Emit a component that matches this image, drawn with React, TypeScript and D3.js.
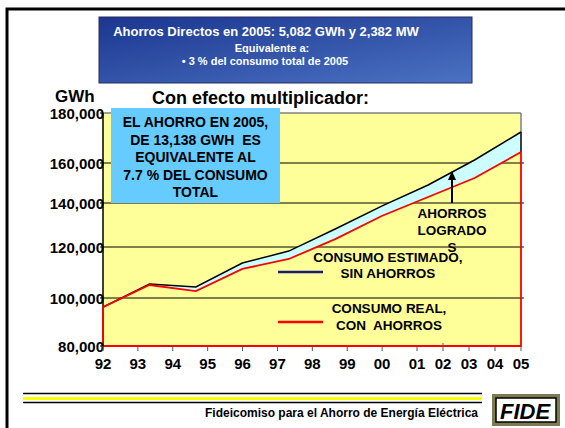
import * as d3 from 'd3';

// consumption series (GWh)
const ESTIMADO = [96200, 105500, 104300, 113700, 118400, 128200, 138600, 149000, 161200, 172400];
const REAL = [96200, 105100, 102700, 111400, 115300, 123600, 134100, 143000, 152500, 164400];
const Y_TICKS = [80000, 100000, 120000, 140000, 160000, 180000];
const X_LABELS = ['92', '93', '94', '95', '96', '97', '98', '99', '00', '01', '02', '03', '04', '05'];
const BOX_LINES = ['EL AHORRO EN 2005,', 'DE 13,138 GWH  ES', 'EQUIVALENTE AL', '7.7 % DEL CONSUMO', 'TOTAL'];

const FONT = '"Liberation Sans", Arial, Helvetica, sans-serif';

const margin = { left: 103, top: 113 };
const W = 418;
const H = 233;

export default function App() {
  // the source picture is slightly stretched, so the scales are piecewise
  const y = d3.scaleLinear().domain(Y_TICKS).range([H, 185, 134, 90, 50, 0]);
  const xData = d3.scaleLinear().domain([0, ESTIMADO.length - 1]).range([0, W]);
  const xTick = d3.scaleLinear().domain([0, 9, X_LABELS.length - 1]).range([0, 314, W]);

  const rows = ESTIMADO.map((e, i) => ({ i, est: e, real: REAL[i] }));

  const band = d3.area<any>()
    .x(d => xData(d.i))
    .y0(d => y(d.real))
    .y1(d => y(d.est))(rows);

  const estLine = d3.line<any>().x(d => xData(d.i)).y(d => y(d.est))(rows);
  const realOutline = d3.area<any>().x(d => xData(d.i)).y0(H).y1(d => y(d.real))(rows);

  const last = rows[rows.length - 1];

  return (
    <svg width={565} height={428} style={{ position: 'absolute', left: 0, top: 0, background: '#fff' }} fontFamily={FONT}>
      <defs>
        <linearGradient id="banner" x1="0%" y1="0%" x2="100%" y2="100%">
          <stop offset="0%" stopColor="#1b3690" />
          <stop offset="100%" stopColor="#4b72c2" />
        </linearGradient>
      </defs>

      {/* slide frame */}
      <rect x={7} y={9} width={600} height={450} fill="none" stroke="#000" strokeWidth={3} />

      {/* banner */}
      <rect x={99} y={17} width={373} height={66} fill="url(#banner)" stroke="#2a2a60" strokeWidth={1} />
      <text x={266} y={36} textAnchor="middle" fill="#fff" fontWeight="bold" fontSize={13}>
        Ahorros Directos en 2005: 5,082 GWh y 2,382 MW
      </text>
      <text x={272} y={52} textAnchor="middle" fill="#fff" fontWeight="bold" fontSize={11}>Equivalente a:</text>
      <text x={265} y={65} textAnchor="middle" fill="#fff" fontWeight="bold" fontSize={11}>
        • 3 % del consumo total de 2005
      </text>

      <text x={55} y={102} fontWeight="bold" fontSize={17}>GWh</text>
      <text x={152} y={104} fontWeight="bold" fontSize={18}>Con efecto multiplicador:</text>

      <g transform={`translate(${margin.left},${margin.top})`}>
        <rect x={0} y={0} width={W} height={H} fill="#ffff99" />
        {Y_TICKS.slice(1, -1).map(t => (
          <line key={t} x1={0} x2={W + 3} y1={y(t)} y2={y(t)} stroke="#000" strokeWidth={1} />
        ))}
        <path d={band ?? ''} fill="#ccffff" />
        <line x1={0} x2={W} y1={0} y2={0} stroke="#808080" strokeWidth={1.5} />
        <line x1={W} x2={W} y1={0} y2={y(last.est)} stroke="#808080" strokeWidth={1.5} />
        <line x1={0} x2={0} y1={0} y2={H} stroke="#000" strokeWidth={1.5} />
        <path d={estLine ?? ''} fill="none" stroke="#000" strokeWidth={1.5} />
        <line x1={W} x2={W} y1={y(last.est)} y2={y(last.real)} stroke="#000" strokeWidth={1.5} />
        <path d={realOutline ?? ''} fill="none" stroke="#ff0000" strokeWidth={1.8} />

        {/* y axis */}
        {Y_TICKS.map(t => (
          <g key={t}>
            <line x1={-3} x2={0} y1={y(t)} y2={y(t)} stroke="#000" />
            <text x={1} y={y(t) + 6} textAnchor="end" fontWeight="bold" fontSize={15}>
              {d3.format(',')(t)}
            </text>
          </g>
        ))}

        {/* x axis */}
        {X_LABELS.map((l, i) => (
          <g key={l}>
            <line x1={xTick(i)} x2={xTick(i)} y1={l === '02' ? H - 3 : H} y2={H + 5} stroke="#555" strokeWidth={1} />
            <text x={xTick(i)} y={H + 23} textAnchor="middle" fontWeight="bold" fontSize={15}>{l}</text>
          </g>
        ))}
      </g>

      {/* note box */}
      <rect x={111} y={108} width={169} height={95} fill="#66ccff" />
      {BOX_LINES.map((l, i) => (
        <text key={i} x={195.5} y={127 + i * 17.5} textAnchor="middle" fontWeight="bold" fontSize={14} style={{ whiteSpace: 'pre' }}>
          {l}
        </text>
      ))}

      {/* savings annotation */}
      <line x1={452} x2={452} y1={203} y2={178} stroke="#000" strokeWidth={2} />
      <path d="M452,171 L448,180 L456,180 Z" fill="#000" />
      {['AHORROS', 'LOGRADO', 'S'].map((l, i) => (
        <text key={l} x={452} y={218 + i * 17} textAnchor="middle" fontWeight="bold" fontSize={13.5}>{l}</text>
      ))}

      {/* legend */}
      <line x1={278} x2={323} y1={272} y2={272} stroke="#1a1a70" strokeWidth={2.5} />
      <text x={388} y={262} textAnchor="middle" fontWeight="bold" fontSize={13.5}>CONSUMO ESTIMADO,</text>
      <text x={388} y={278} textAnchor="middle" fontWeight="bold" fontSize={13.5}>SIN AHORROS</text>
      <line x1={278} x2={323} y1={322} y2={322} stroke="#ff0000" strokeWidth={2.5} />
      <text x={389} y={313} textAnchor="middle" fontWeight="bold" fontSize={13.5}>CONSUMO REAL,</text>
      <text x={389} y={330} textAnchor="middle" fontWeight="bold" fontSize={13.5} style={{ whiteSpace: 'pre' }}>CON  AHORROS</text>

      {/* footer */}
      <line x1={23} x2={482} y1={393.5} y2={393.5} stroke="#000" strokeWidth={1.5} />
      <line x1={23} x2={482} y1={398.5} y2={398.5} stroke="#ffff00" strokeWidth={3} />
      <line x1={23} x2={482} y1={402.5} y2={402.5} stroke="#000" strokeWidth={1.5} />
      <text x={478} y={417} textAnchor="end" fontWeight="bold" fontSize={12}>
        Fideicomiso para el Ahorro de Energía Eléctrica
      </text>
      <rect x={492} y={394} width={68} height={32} fill="#7c7a50" />
      <rect x={496} y={398} width={60} height={24} fill="#fff" stroke="#000" strokeWidth={1.5} />
      <text x={525} y={418.5} textAnchor="middle" fontWeight="bold" fontStyle="italic" fontSize={22}>FIDE</text>
    </svg>
  );
}
